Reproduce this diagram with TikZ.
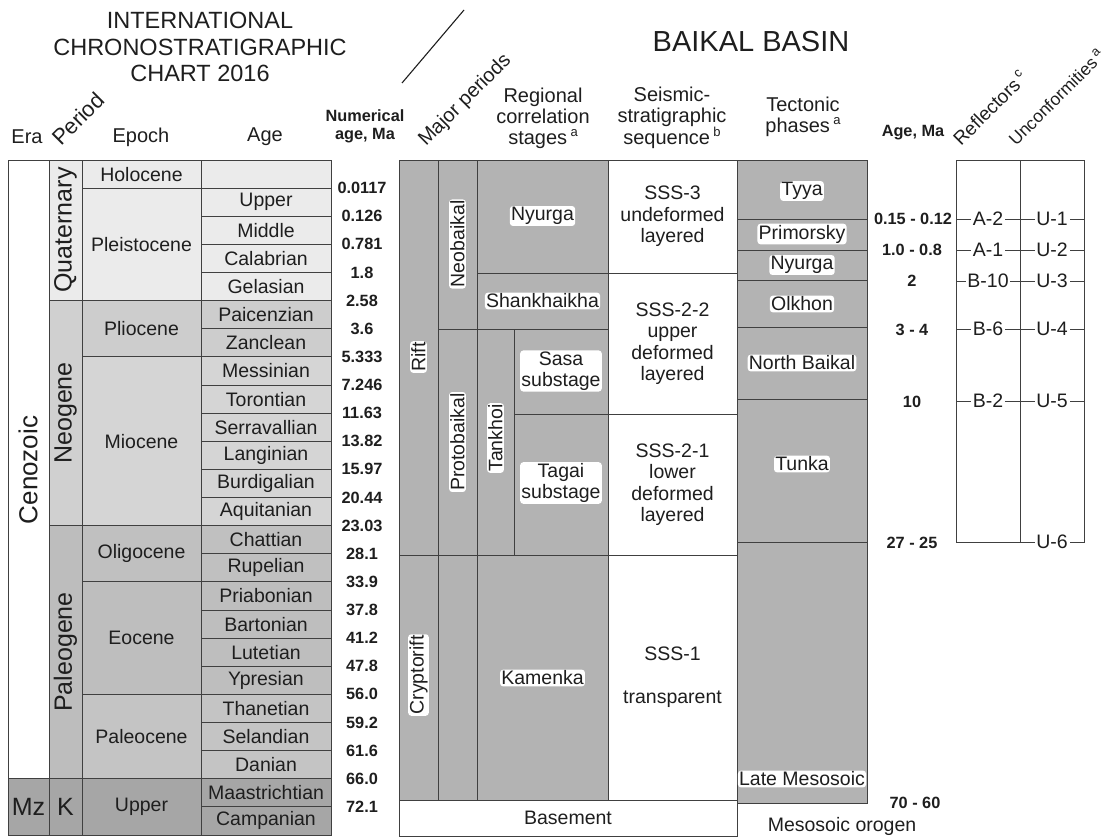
\documentclass[tikz,border=0pt]{standalone}
\usepackage{fontspec}
\setmainfont{Liberation Sans}
\definecolor{lc}{HTML}{404040}
\definecolor{tc}{HTML}{1E1E1E}
\definecolor{qc}{HTML}{EBEBEB}
\definecolor{ngc}{HTML}{D0D0D0}
\definecolor{plc}{HTML}{CDCDCD}
\definecolor{mic}{HTML}{D5D5D5}
\definecolor{pgc}{HTML}{BDBDBD}
\definecolor{olc}{HTML}{C0C0C0}
\definecolor{eoc}{HTML}{BEBEBE}
\definecolor{pac}{HTML}{C4C4C4}
\definecolor{mzc}{HTML}{A6A6A6}
\definecolor{bgc}{HTML}{B3B3B3}
\newcommand\ry[1]{(160+28.125*#1)}
\newcommand\cellbox[7]{\node[cell, fill=#6, minimum width={(#3)-(#2)}, minimum height={(#5)-(#4)}] (#1) at ({((#2)+(#3))/2},{((#4)+(#5))/2}) {#7};}
\newcommand\upl[1]{\,\raisebox{0.4em}{\fontsize{13}{13}\selectfont #1}}
\tikzset{
 cell/.style={draw=lc, line width=1pt, inner sep=0pt, outer sep=0pt, text=tc, align=center, font=\fontsize{19.5}{21.5}\selectfont},
 halo/.style={fill=white, inner sep=1.2pt, rounded corners=3pt, text=tc, align=center, font=\fontsize{19.5}{21}\selectfont},
 numst/.style={font=\bfseries\fontsize{16.3}{18}\selectfont, text=tc, inner sep=0pt, align=center},
 hdr/.style={font=\fontsize{20}{21}\selectfont, text=tc, align=center},
 rhdr/.style={font=\fontsize{20}{21}\selectfont, text=tc, rotate=45, anchor=base west, inner sep=0pt},
 rlab/.style={fill=white, inner sep=1.8pt, font=\fontsize{19.5}{21}\selectfont, text=tc},
 rline/.style={draw=lc, line width=1pt},
}
\begin{document}
\begin{tikzpicture}[x=1pt,y=-1pt]
\useasboundingbox (0,0) rectangle (1103,836);
% ---------- titles ----------
\node[font=\fontsize{23.5}{26.5}\selectfont, text=tc, align=center] (title) at (200,47) {INTERNATIONAL\\CHRONOSTRATIGRAPHIC\\CHART 2016};
\node[font=\fontsize{29}{32}\selectfont, text=tc] (baikal) at (751,42) {BAIKAL BASIN};
\coordinate (s1) at (402,83);
\coordinate (s2) at (464,10);
\draw[line width=1.1pt, draw=tc] (s1) -- (s2);
% ---------- column headers ----------
\node[hdr] (hEra) at (27,137) {Era};
\node[rhdr, font=\fontsize{22}{23}\selectfont] (hPer) at (61,147) {Period};
\node[hdr] (hEpo) at (141,137) {Epoch};
\node[hdr] (hAge) at (265,137) {Age};
\node[numst] (hNum) at (365,126) {Numerical\\age, Ma};
\node[rhdr] (hMaj) at (426,147) {Major periods};
\node[hdr] (hReg) at (543,118) {Regional\\correlation\\stages\upl{a}};
\node[hdr] (hSei) at (672,118) {Seismic-\\stratigraphic\\sequence\upl{b}};
\node[hdr] (hTec) at (803,117) {Tectonic\\phases\upl{a}};
\node[numst] (hAgeMa) at (913,133) {Age, Ma};
\node[rhdr, font=\fontsize{19}{20}\selectfont] (hRef) at (961,147) {Reflectors\upl{c}};
\node[rhdr, font=\fontsize{17.5}{19}\selectfont] (hUnc) at (1016,147) {Unconformities\upl{a}};
% ---------- left chart: era ----------
\cellbox{ceno}{8}{49}{\ry{0}}{\ry{22}}{white}{}
\cellbox{mzE}{8}{49}{\ry{22}}{\ry{24}}{mzc}{\fontsize{25}{27}\selectfont Mz}
% period
\cellbox{quat}{49}{82}{\ry{0}}{\ry{5}}{qc}{}
\cellbox{neog}{49}{82}{\ry{5}}{\ry{13}}{ngc}{}
\cellbox{paleog}{49}{82}{\ry{13}}{\ry{22}}{pgc}{}
\cellbox{kP}{49}{82}{\ry{22}}{\ry{24}}{mzc}{\fontsize{25}{27}\selectfont K}
% epoch
\cellbox{holo}{82}{201}{\ry{0}}{\ry{1}}{qc}{Holocene}
\cellbox{pleist}{82}{201}{\ry{1}}{\ry{5}}{qc}{Pleistocene}
\cellbox{plio}{82}{201}{\ry{5}}{\ry{7}}{plc}{Pliocene}
\cellbox{mio}{82}{201}{\ry{7}}{\ry{13}}{mic}{Miocene}
\cellbox{oligo}{82}{201}{\ry{13}}{\ry{15}}{olc}{Oligocene}
\cellbox{eoc}{82}{201}{\ry{15}}{\ry{19}}{eoc}{Eocene}
\cellbox{paleoc}{82}{201}{\ry{19}}{\ry{22}}{pac}{Paleocene}
\cellbox{upK}{82}{201}{\ry{22}}{\ry{24}}{mzc}{Upper}
% age
\cellbox{a0}{201}{331}{\ry{0}}{\ry{1}}{qc}{}
\cellbox{a1}{201}{331}{\ry{1}}{\ry{2}}{qc}{Upper}
\cellbox{a2}{201}{331}{\ry{2}}{\ry{3}}{qc}{Middle}
\cellbox{a3}{201}{331}{\ry{3}}{\ry{4}}{qc}{Calabrian}
\cellbox{a4}{201}{331}{\ry{4}}{\ry{5}}{qc}{Gelasian}
\cellbox{a5}{201}{331}{\ry{5}}{\ry{6}}{plc}{Paicenzian}
\cellbox{a6}{201}{331}{\ry{6}}{\ry{7}}{plc}{Zanclean}
\cellbox{a7}{201}{331}{\ry{7}}{\ry{8}}{mic}{Messinian}
\cellbox{a8}{201}{331}{\ry{8}}{\ry{9}}{mic}{Torontian}
\cellbox{a9}{201}{331}{\ry{9}}{\ry{10}}{mic}{Serravallian}
\cellbox{a10}{201}{331}{\ry{10}}{\ry{11}}{mic}{Langinian}
\cellbox{a11}{201}{331}{\ry{11}}{\ry{12}}{mic}{Burdigalian}
\cellbox{a12}{201}{331}{\ry{12}}{\ry{13}}{mic}{Aquitanian}
\cellbox{a13}{201}{331}{\ry{13}}{\ry{14}}{olc}{Chattian}
\cellbox{a14}{201}{331}{\ry{14}}{\ry{15}}{olc}{Rupelian}
\cellbox{a15}{201}{331}{\ry{15}}{\ry{16}}{eoc}{Priabonian}
\cellbox{a16}{201}{331}{\ry{16}}{\ry{17}}{eoc}{Bartonian}
\cellbox{a17}{201}{331}{\ry{17}}{\ry{18}}{eoc}{Lutetian}
\cellbox{a18}{201}{331}{\ry{18}}{\ry{19}}{eoc}{Ypresian}
\cellbox{a19}{201}{331}{\ry{19}}{\ry{20}}{pac}{Thanetian}
\cellbox{a20}{201}{331}{\ry{20}}{\ry{21}}{pac}{Selandian}
\cellbox{a21}{201}{331}{\ry{21}}{\ry{22}}{pac}{Danian}
\cellbox{a22}{201}{331}{\ry{22}}{\ry{23}}{mzc}{Maastrichtian}
\cellbox{a23}{201}{331}{\ry{23}}{\ry{24}}{mzc}{Campanian}
% rotated labels
\node[text=tc, rotate=90, font=\fontsize{26}{28}\selectfont] (cenoL) at (28,470) {Cenozoic};
\node[text=tc, rotate=90, font=\fontsize{25}{27}\selectfont] (quatL) at (65.5,230) {Quaternary};
\node[text=tc, rotate=90, font=\fontsize{25}{27}\selectfont] (neogL) at (65.5,413) {Neogene};
\node[text=tc, rotate=90, font=\fontsize{25}{27}\selectfont] (paleogL) at (65.5,652) {Paleogene};
% numerical ages
\foreach \v [count=\i] in {0.0117,0.126,0.781,1.8,2.58,3.6,5.333,7.246,11.63,13.82,15.97,20.44,23.03,28.1,33.9,37.8,41.2,47.8,56.0,59.2,61.6,66.0,72.1}
  \node[numst] (n\i) at (362,{\ry{\i}}) {\v};
% ---------- Baikal basin ----------
\cellbox{rift}{399}{438}{160}{555}{bgc}{}
\cellbox{cryp}{399}{438}{555}{800}{bgc}{}
\cellbox{neo}{438}{477}{160}{329}{bgc}{}
\cellbox{proto}{438}{477}{329}{555}{bgc}{}
\cellbox{emp}{438}{477}{555}{800}{bgc}{}
\cellbox{nyr}{477}{608}{160}{273}{bgc}{}
\cellbox{shank}{477}{608}{273}{329}{bgc}{}
\cellbox{tank}{477}{514}{329}{555}{bgc}{}
\cellbox{sasa}{514}{608}{329}{414}{bgc}{}
\cellbox{tagai}{514}{608}{414}{555}{bgc}{}
\cellbox{kam}{477}{608}{555}{800}{bgc}{}
\cellbox{sss3}{608}{737}{160}{273}{white}{SSS-3\\undeformed\\layered}
\cellbox{sss22}{608}{737}{273}{414}{white}{SSS-2-2\\upper\\deformed\\layered}
\cellbox{sss21}{608}{737}{414}{555}{white}{SSS-2-1\\lower\\deformed\\layered}
\cellbox{sss1}{608}{737}{555}{800}{white}{SSS-1\\[21.5pt]transparent}
\cellbox{base}{399}{737}{800}{836}{white}{}
\node[text=tc, font=\fontsize{19.5}{21}\selectfont] (baseL) at (568,818) {Basement};
\cellbox{tyya}{737}{867}{160}{219}{bgc}{}
\cellbox{prim}{737}{867}{219}{250}{bgc}{}
\cellbox{tnyr}{737}{867}{250}{280}{bgc}{}
\cellbox{olk}{737}{867}{280}{327}{bgc}{}
\cellbox{nb}{737}{867}{327}{399}{bgc}{}
\cellbox{tunka}{737}{867}{399}{542}{bgc}{}
\cellbox{latemz}{737}{867}{542}{803}{bgc}{}
% Baikal labels with white halo
\node[halo, rotate=90] (riftL) at (418.5,357) {Rift};
\node[halo, rotate=90] (crypL) at (418.5,675) {Cryptorift};
\node[halo, rotate=90] (neoL) at (457.5,244) {Neobaikal};
\node[halo, rotate=90] (protoL) at (457.5,442) {Protobaikal};
\node[halo, rotate=90] (tankL) at (495.5,438) {Tankhoi};
\node[halo] (nyrL) at (542.5,216) {Nyurga};
\node[halo] (shankL) at (542.5,301) {Shankhaikha};
\node[halo] (sasaL) at (561,371) {Sasa\\substage};
\node[halo] (tagaiL) at (561,483) {Tagai\\substage};
\node[halo] (kamL) at (542.5,678) {Kamenka};
\node[halo] (tyyaL) at (802,191) {Tyya};
\node[halo] (primL) at (802,234) {Primorsky};
\node[halo] (tnyrL) at (802,265) {Nyurga};
\node[halo] (olkL) at (802,304) {Olkhon};
\node[halo] (nbL) at (802,363) {North Baikal};
\node[halo] (tunkaL) at (802,464) {Tunka};
\node[halo] (latemzL) at (802,779) {Late Mesosoic};
\node[text=tc, font=\fontsize{19.5}{21}\selectfont] (orog) at (842,826) {Mesosoic orogen};
% right ages
\node[numst] (r1) at (913,219) {0.15 - 0.12};
\node[numst] (r2) at (912,250) {1.0 - 0.8};
\node[numst] (r3) at (912,281) {2};
\node[numst] (r4) at (912,330) {3 - 4};
\node[numst] (r5) at (912,402) {10};
\node[numst] (r6) at (912,543) {27 - 25};
\node[numst] (r7) at (915,803) {70 - 60};
% reflectors / unconformities box
\coordinate (bTL) at (956,160);
\coordinate (bBR) at (1084,542);
\coordinate (bTM) at (1020,160);
\coordinate (bBM) at (1020,542);
\draw[rline] (bTL) rectangle (bBR);
\draw[rline] (bTM) -- (bBM);
\foreach \yy/\ra/\ua [count=\k] in {219/A-2/U-1, 250/A-1/U-2, 281/B-10/U-3, 329/B-6/U-4, 401/B-2/U-5}{
  \coordinate (hl\k) at (956,\yy);
  \coordinate (hr\k) at (1084,\yy);
  \draw[rline] (hl\k) -- (hr\k);
  \node[rlab] (ref\k) at (988,\yy) {\ra};
  \node[rlab] (unc\k) at (1052,\yy) {\ua};
}
\node[rlab] (unc6) at (1052,542) {U-6};
\end{tikzpicture}
\end{document}
